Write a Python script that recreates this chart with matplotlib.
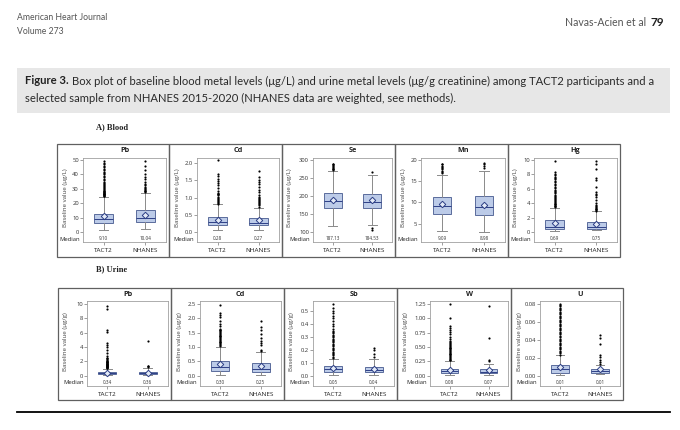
import matplotlib
matplotlib.use("Agg")
import matplotlib.pyplot as plt
from matplotlib.patches import Rectangle
from matplotlib.lines import Line2D

# ---------------- data ----------------
groups = ["TACT2", "NHANES"]
blood_metals = ["Pb", "Cd", "Se", "Mn", "Hg"]
urine_metals = ["Pb", "Cd", "Sb", "W", "U"]

# box stats per group: [whisker low, q1, median, q3, whisker high]
blood_pb_box = [[1.6, 6.2, 9.10, 12.7, 24.6], [2.3, 6.9, 10.04, 15.2, 27.0]]
blood_pb_mean = [11.3, 11.8]
blood_pb_out_tact2 = [24.9, 25.2, 25.5, 25.8, 26.1, 26.4, 26.7, 27.0, 27.3, 27.6, 27.9, 28.2,
                      28.6, 29.0, 29.6, 30.3, 31.0, 31.8, 32.5, 33.3, 34.0, 35.0, 36.0, 37.0,
                      38.0, 39.0, 40.0, 41.0, 42.0, 43.0, 44.0, 45.0, 46.0, 47.0, 48.0, 49.2]
blood_pb_out_nhanes = [27.6, 28.2, 28.8, 29.4, 30.0, 30.6, 31.5, 32.5, 33.5, 35.0, 36.5, 38.5,
                       40.5, 43.0, 45.5, 49.0]
blood_pb_median_lbl = ["9.10", "10.04"]
blood_pb_ticks = [0, 10, 20, 30, 40, 50]

blood_cd_box = [[0.05, 0.19, 0.28, 0.44, 0.80], [0.07, 0.21, 0.27, 0.42, 0.71]]
blood_cd_mean = [0.34, 0.34]
blood_cd_out_tact2 = [0.82, 0.85, 0.88, 0.91, 0.94, 0.97, 1.00, 1.03, 1.06, 1.09, 1.11, 1.13,
                      1.20, 1.28, 1.35, 1.42, 1.48, 1.55, 1.62, 1.68, 2.10]
blood_cd_out_nhanes = [0.74, 0.77, 0.80, 0.83, 0.86, 0.89, 0.92, 0.95, 0.98, 1.02, 1.08, 1.15,
                       1.22, 1.30, 1.38, 1.45, 1.52, 1.60, 1.78]
blood_cd_median_lbl = ["0.28", "0.27"]
blood_cd_ticks = [0.0, 0.5, 1.0, 1.5, 2.0]

blood_se_box = [[117.5, 168.0, 187.13, 209.7, 270.0], [120.0, 168.0, 184.53, 205.0, 257.6]]
blood_se_mean = [189.0, 188.0]
blood_se_out_tact2 = [272, 274, 276, 278, 280, 283, 286, 289, 290]
blood_se_out_nhanes = [268, 112, 106]
blood_se_median_lbl = ["187.13", "184.53"]
blood_se_ticks = [100, 150, 200, 250, 300]

blood_mn_box = [[3.3, 7.3, 9.09, 11.26, 16.5], [3.07, 7.1, 8.98, 11.5, 17.5]]
blood_mn_mean = [9.7, 9.3]
blood_mn_out_tact2 = [16.9, 17.2, 17.5, 17.8, 18.1, 18.4, 18.7, 19.0, 19.0]
blood_mn_out_nhanes = [18.2, 18.6, 19.0, 19.4]
blood_mn_median_lbl = ["9.09", "8.98"]
blood_mn_ticks = [5, 10, 15, 20]

blood_hg_box = [[0.18, 0.41, 0.69, 1.6, 3.4], [0.23, 0.41, 0.75, 1.38, 2.86]]
blood_hg_mean = [1.29, 1.06]
blood_hg_out_tact2 = [3.45, 3.55, 3.65, 3.75, 3.85, 3.95, 4.05, 4.15, 4.3, 4.45, 4.6, 4.75,
                      4.9, 5.05, 5.2, 5.35, 5.5, 5.7, 5.9, 6.1, 6.3, 6.5, 6.7, 6.9, 7.1, 7.3,
                      7.5, 7.7, 7.9, 8.1, 8.3, 9.8]
blood_hg_out_nhanes = [2.95, 3.05, 3.15, 3.25, 3.35, 3.5, 3.65, 3.8, 4.0, 4.4, 4.8, 5.1, 5.3,
                       5.5, 6.2, 7.2, 7.5, 8.8, 9.4, 9.9]
blood_hg_median_lbl = ["0.69", "0.75"]
blood_hg_ticks = [0, 2, 4, 6, 8, 10]

urine_pb_box = [[0.05, 0.19, 0.34, 0.47, 1.0], [0.05, 0.19, 0.36, 0.56, 1.1]]
urine_pb_mean = [0.37, 0.37]
urine_pb_out_tact2 = [1.05, 1.1, 1.15, 1.2, 1.25, 1.3, 1.35, 1.4, 1.45, 1.5, 1.55, 1.6, 1.65,
                      1.7, 1.75, 1.8, 1.85, 1.9, 1.95, 2.0, 2.1, 2.2, 2.3, 2.4, 2.5, 2.8, 3.2,
                      3.6, 4.0, 4.3, 4.6, 6.1, 6.4, 9.3, 9.7]
urine_pb_out_nhanes = [1.2, 1.3, 1.4, 4.9]
urine_pb_median_lbl = ["0.34", "0.36"]
urine_pb_ticks = [0, 2, 4, 6, 8, 10]

urine_cd_box = [[0.02, 0.17, 0.30, 0.51, 1.01], [0.03, 0.14, 0.25, 0.43, 0.81]]
urine_cd_mean = [0.40, 0.35]
urine_cd_out_tact2 = [1.04, 1.07, 1.1, 1.13, 1.16, 1.19, 1.22, 1.25, 1.28, 1.31, 1.34, 1.37,
                      1.4, 1.43, 1.46, 1.49, 1.52, 1.55, 1.58, 1.61, 1.64, 1.75, 1.82, 1.9,
                      2.05, 2.12, 2.2, 2.45]
urine_cd_out_nhanes = [0.86, 0.9, 1.08, 1.14, 1.2, 1.32, 1.45, 1.6, 1.7, 1.9]
urine_cd_median_lbl = ["0.30", "0.25"]
urine_cd_ticks = [0.0, 0.5, 1.0, 1.5, 2.0, 2.5]

urine_sb_box = [[0.005, 0.028, 0.05, 0.071, 0.13], [0.008, 0.025, 0.04, 0.068, 0.125]]
urine_sb_mean = [0.058, 0.052]
urine_sb_out_tact2 = [0.135, 0.145, 0.155, 0.165, 0.175, 0.185, 0.195, 0.205, 0.215, 0.225,
                      0.235, 0.245, 0.255, 0.265, 0.275, 0.285, 0.295, 0.305, 0.315, 0.325,
                      0.335, 0.345, 0.36, 0.38, 0.40, 0.42, 0.44, 0.46, 0.48, 0.50, 0.52, 0.55]
urine_sb_out_nhanes = [0.145, 0.165, 0.2, 0.215]
urine_sb_median_lbl = ["0.05", "0.04"]
urine_sb_ticks = [0.0, 0.1, 0.2, 0.3, 0.4, 0.5]

urine_w_box = [[0.01, 0.04, 0.08, 0.12, 0.255], [0.01, 0.04, 0.07, 0.11, 0.2]]
urine_w_mean = [0.105, 0.093]
urine_w_out_tact2 = [0.265, 0.28, 0.295, 0.31, 0.325, 0.34, 0.355, 0.37, 0.385, 0.40, 0.415,
                     0.43, 0.445, 0.46, 0.475, 0.49, 0.505, 0.52, 0.535, 0.55, 0.565, 0.58,
                     0.60, 0.64, 0.68, 0.72, 0.76, 0.80, 0.84, 0.87, 1.01, 1.25]
urine_w_out_nhanes = [0.255, 0.28, 0.65, 1.21]
urine_w_median_lbl = ["0.08", "0.07"]
urine_w_ticks = [0.0, 0.25, 0.5, 0.75, 1.0, 1.25]

urine_u_box = [[0.0007, 0.0033, 0.007, 0.0119, 0.0227], [0.0015, 0.003, 0.005, 0.007, 0.012]]
urine_u_mean = [0.010, 0.0075]
urine_u_out_tact2 = [0.0235, 0.025, 0.0265, 0.028, 0.0295, 0.031, 0.0325, 0.034, 0.0355, 0.037,
                     0.0385, 0.040, 0.0415, 0.043, 0.0445, 0.046, 0.0475, 0.049, 0.0505, 0.052,
                     0.0535, 0.055, 0.0565, 0.058, 0.0595, 0.061, 0.0625, 0.064, 0.0655, 0.067,
                     0.0685, 0.070, 0.0715, 0.073, 0.0745, 0.076, 0.0775, 0.079, 0.080]
urine_u_out_nhanes = [0.0135, 0.015, 0.0175, 0.021, 0.0235, 0.035, 0.042, 0.045]
urine_u_median_lbl = ["0.01", "0.01"]
urine_u_ticks = [0.0, 0.02, 0.04, 0.06, 0.08]

# ---------------- layout ----------------
W, H = 680, 430
fig = plt.figure(figsize=(6.8, 4.3), dpi=100)
FONT = ["Open Sans", "DejaVu Sans"]


def fx(px):
    return px / W


def fy(py):
    return 1 - py / H


blood_row = dict(top=144, bot=257, ft=158, fb=242, dmax=160, dmin=232, med=239, title=151, edges=[57, 169, 282, 395, 508, 620], margins=[26, 28, 31, 26, 26], ylabel="Baseline value (µg/L)")
urine_row = dict(top=288, bot=400, ft=301.3, fb=385.7, dmax=304, dmin=375.7, med=382.3, title=294.5, edges=[58, 171, 284, 397, 511, 623], margins=[29, 29, 29, 33, 29], ylabel="Baseline value (µg/g)")

BOX_FC = "#bccbe8"
BOX_EC = "#5a6c9c"
NAVY = "#2d3f86"
WHISK = "#8a8a8a"


def add_panel(row, i, title, box, means, outs, med_lbls, ticks, fmt, yrange):
    left, right = row["edges"][i], row["edges"][i + 1]
    top, bot = row["top"], row["bot"]
    fig.add_artist(Rectangle((fx(left), fy(bot)), (right - left) / W, (bot - top) / H,
                             fill=False, ec="#606060", lw=0.9, transform=fig.transFigure))
    ax_l = left + row["margins"][i]
    ax_r = right - 3
    ax = fig.add_axes([fx(ax_l), fy(row["fb"]), (ax_r - ax_l) / W, (row["fb"] - row["ft"]) / H])
    ymin, ymax = yrange
    per = (ymax - ymin) / (row["dmin"] - row["dmax"])
    ax.set_ylim(ymin - (row["fb"] - row["dmin"]) * per, ymax + (row["dmax"] - row["ft"]) * per)
    ax.set_xlim(0.5, 2.5)
    stats = []
    for g in range(2):
        lo, q1, med, q3, hi = box[g]
        stats.append(dict(whislo=lo, q1=q1, med=med, q3=q3, whishi=hi, mean=means[g],
                          fliers=outs[g], label=groups[g]))
    ax.bxp(stats, positions=[1, 2], widths=0.45, capwidths=0.22, patch_artist=True,
           showmeans=True, showfliers=True,
           boxprops=dict(facecolor=BOX_FC, edgecolor=BOX_EC, linewidth=0.7),
           medianprops=dict(color=NAVY, linewidth=0.7),
           whiskerprops=dict(color=WHISK, linewidth=0.7),
           capprops=dict(color=WHISK, linewidth=0.7),
           meanprops=dict(marker="D", markersize=3.3, markerfacecolor="#e4ebf7",
                          markeredgecolor=NAVY, markeredgewidth=0.7),
           flierprops=dict(marker="o", markersize=1.3, markerfacecolor="black",
                           markeredgecolor="black", markeredgewidth=0.2, linestyle="none"))
    for sp in ax.spines.values():
        sp.set_color("#a0a0a0")
        sp.set_linewidth(0.6)
    ax.set_yticks(ticks)
    ax.set_yticklabels([fmt % t for t in ticks], fontsize=4.2, color="#333333", family=FONT)
    ax.set_xticks([1, 2])
    ax.set_xticklabels(groups, fontsize=4.6, color="#222222", family=FONT)
    ax.tick_params(axis="y", length=2, width=0.5, color="#777777", pad=1)
    ax.tick_params(axis="x", length=2, width=0.5, color="#777777", pad=2.2)
    med_frac = (row["fb"] - row["med"]) / (row["fb"] - row["ft"])
    for g in range(2):
        ax.text(g + 1, med_frac, med_lbls[g], transform=ax.get_xaxis_transform(),
                ha="center", va="center", fontsize=3.3, color="#333333", family=FONT)
    fig.text(fx(ax_l - 3), fy(row["med"]), "Median", ha="right", va="center",
             fontsize=4.2, color="#222222", family=FONT)
    fig.text(fx((ax_l + ax_r) / 2), fy(row["title"]), title, ha="center", va="center",
             fontsize=5.2, fontweight="bold", color="#222222", family=FONT)
    fig.text(fx(left + 8), fy((row["ft"] + row["fb"]) / 2 - 2), row["ylabel"], rotation=90,
             ha="center", va="center", fontsize=4.4, color="#444444", family=FONT)


blood_panels = [
    (blood_pb_box, blood_pb_mean, [blood_pb_out_tact2, blood_pb_out_nhanes], blood_pb_median_lbl, blood_pb_ticks, "%d", (0, 50)),
    (blood_cd_box, blood_cd_mean, [blood_cd_out_tact2, blood_cd_out_nhanes], blood_cd_median_lbl, blood_cd_ticks, "%.1f", (0, 2.09)),
    (blood_se_box, blood_se_mean, [blood_se_out_tact2, blood_se_out_nhanes], blood_se_median_lbl, blood_se_ticks, "%d", (100, 300)),
    (blood_mn_box, blood_mn_mean, [blood_mn_out_tact2, blood_mn_out_nhanes], blood_mn_median_lbl, blood_mn_ticks, "%d", (3.0, 20)),
    (blood_hg_box, blood_hg_mean, [blood_hg_out_tact2, blood_hg_out_nhanes], blood_hg_median_lbl, blood_hg_ticks, "%d", (0, 10)),
]
urine_panels = [
    (urine_pb_box, urine_pb_mean, [urine_pb_out_tact2, urine_pb_out_nhanes], urine_pb_median_lbl, urine_pb_ticks, "%d", (0, 10)),
    (urine_cd_box, urine_cd_mean, [urine_cd_out_tact2, urine_cd_out_nhanes], urine_cd_median_lbl, urine_cd_ticks, "%.1f", (0, 2.5)),
    (urine_sb_box, urine_sb_mean, [urine_sb_out_tact2, urine_sb_out_nhanes], urine_sb_median_lbl, urine_sb_ticks, "%.1f", (0, 0.55)),
    (urine_w_box, urine_w_mean, [urine_w_out_tact2, urine_w_out_nhanes], urine_w_median_lbl, urine_w_ticks, "%.2f", (0, 1.25)),
    (urine_u_box, urine_u_mean, [urine_u_out_tact2, urine_u_out_nhanes], urine_u_median_lbl, urine_u_ticks, "%.2f", (0, 0.08)),
]

for i, (metal, p) in enumerate(zip(blood_metals, blood_panels)):
    add_panel(blood_row, i, metal, *p)
for i, (metal, p) in enumerate(zip(urine_metals, urine_panels)):
    add_panel(urine_row, i, metal, *p)

# ---------------- page header / caption ----------------
HDR = ["Lato", "DejaVu Sans"]
fig.text(fx(17), fy(18), "American Heart Journal", fontsize=6.2, color="#555555", family=HDR, va="center")
fig.text(fx(17), fy(32), "Volume 273", fontsize=6.2, color="#555555", family=HDR, va="center")
fig.text(fx(646), fy(23), "Navas-Acien et al", fontsize=7.6, color="#555555", family=HDR, va="center", ha="right")
fig.text(fx(664), fy(22.5), "79", fontsize=8.6, color="#222222", family=HDR, va="center", ha="right", fontweight="bold")

fig.add_artist(Rectangle((fx(17), fy(113)), (670 - 17) / W, (113 - 68) / H, facecolor="#e7e7e7",
                         edgecolor="none", transform=fig.transFigure, zorder=0))

r = fig.canvas.get_renderer()
line1_rest = "Box plot of baseline blood metal levels (μg/L) and urine metal levels (μg/g creatinine) among TACT2 participants and a"
line2 = "selected sample from NHANES 2015-2020 (NHANES data are weighted, see methods)."
fs = 7.5
tb = fig.text(fx(25), fy(81), "Figure 3.", fontsize=fs, fontweight="bold", color="#222222", family=HDR, va="center")
t1 = fig.text(fx(60), fy(81), line1_rest, fontsize=fs, color="#2a2a2a", family=HDR, va="center")
wb = tb.get_window_extent(r).width
w1 = t1.get_window_extent(r).width
scale = 626.0 / (wb + 3 + w1)
fs = fs * scale
tb.set_fontsize(fs)
t1.set_fontsize(fs)
wb = tb.get_window_extent(r).width
t1.set_x(fx(25 + wb + 3))
fig.text(fx(25), fy(98), line2, fontsize=fs, color="#2a2a2a", family=HDR, va="center")

fig.text(fx(96), fy(127), "A) Blood", fontsize=6.0, fontweight="bold", color="#222222",
         family=["Liberation Serif", "DejaVu Serif"], va="center")
fig.text(fx(96), fy(269), "B) Urine", fontsize=6.0, fontweight="bold", color="#222222",
         family=["Liberation Serif", "DejaVu Serif"], va="center")

fig.add_artist(Line2D([fx(17), fx(670)], [fy(412), fy(412)], color="black", lw=1.3,
                      transform=fig.transFigure))

fig.savefig("out.png", dpi=100)
